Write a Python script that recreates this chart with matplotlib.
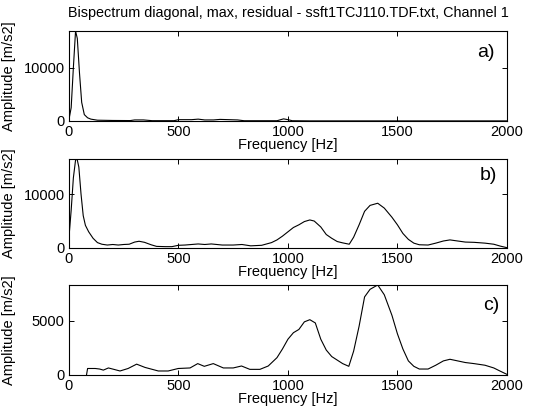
import matplotlib
matplotlib.use('Agg')
import matplotlib.pyplot as plt

plt.rcParams['font.family'] = ['Liberation Sans', 'DejaVu Sans']

# panel a) - bispectrum diagonal
freq_a = [0, 10, 20, 30, 38, 48, 58, 70, 85, 100, 130, 200, 280, 300, 340, 380, 480,
          500, 560, 590, 620, 660, 690, 730, 770, 800, 950, 980, 1000, 1020, 1100, 2000]
amp_a = [300, 2500, 10000, 16900, 15500, 9000, 3500, 1200, 600, 350, 150, 100, 80, 200, 200, 60, 60,
         250, 250, 350, 200, 200, 300, 250, 200, 50, 50, 400, 250, 50, 20, 20]

# panel b) - max
freq_b = [0, 10, 20, 30, 37, 45, 55, 65, 75, 90, 110, 130, 150, 175, 200, 225, 250, 275,
          300, 320, 345, 375, 400, 440, 470, 500, 530, 560, 590, 620, 650, 700, 750, 790,
          830, 880, 925, 950, 975, 1000, 1025, 1050, 1075, 1100, 1120, 1150, 1175, 1200,
          1225, 1250, 1280, 1300, 1325, 1350, 1375, 1410, 1440, 1475, 1500, 1525, 1550,
          1575, 1600, 1640, 1675, 1710, 1740, 1775, 1810, 1850, 1900, 1940, 1970, 2000]
amp_b = [2000, 7000, 13000, 16300, 16500, 15000, 10000, 6000, 4200, 3000, 1800, 1000, 700,
         550, 650, 550, 650, 700, 1100, 1250, 1050, 600, 300, 250, 250, 500, 550, 650, 750,
         650, 750, 550, 550, 650, 400, 500, 1000, 1500, 2200, 3000, 3800, 4300, 4900, 5200,
         5000, 3900, 2500, 1800, 1200, 950, 700, 2000, 4300, 6800, 7900, 8300, 7400, 5700,
         4300, 2700, 1600, 900, 600, 550, 900, 1300, 1500, 1300, 1100, 1050, 900, 700, 350, 60]

# panel c) - residual
freq_c = [80, 85, 120, 140, 157, 180, 205, 233, 270, 309, 347, 408, 453, 499, 553, 588,
          618, 659, 705, 750, 788, 826, 872, 910, 950, 975, 1000, 1025, 1050, 1075, 1100,
          1125, 1150, 1175, 1200, 1250, 1278, 1300, 1325, 1350, 1375, 1410, 1440, 1475,
          1500, 1525, 1550, 1575, 1600, 1640, 1675, 1710, 1740, 1775, 1810, 1850, 1900,
          1940, 1970, 2000]
amp_c = [0, 600, 600, 550, 450, 650, 520, 370, 600, 1000, 700, 370, 370, 600, 650, 1050,
         800, 1050, 650, 650, 830, 520, 520, 830, 1600, 2400, 3300, 3900, 4200, 4900, 5100,
         4800, 3300, 2300, 1700, 1050, 800, 2200, 4500, 7200, 7900, 8300, 7400, 5500,
         3800, 2400, 1300, 800, 550, 550, 900, 1300, 1450, 1300, 1150, 1050, 900,
         650, 350, 60]

panel_labels = ['a)', 'b)', 'c)']
yticks = [[0, 10000], [0, 10000], [0, 5000]]
xticks = [0, 500, 1000, 1500, 2000]

fig = plt.figure(figsize=(5.36, 4.11), dpi=100)
boxes = [[0.1287, 0.7056, 0.817, 0.219],
         [0.1287, 0.3966, 0.817, 0.2165],
         [0.1287, 0.0876, 0.817, 0.219]]
label_pos = [(0.973, 0.756), (0.977, 0.82), (0.982, 0.767)]

series = [(freq_a, amp_a), (freq_b, amp_b), (freq_c, amp_c)]
for i, (f, a) in enumerate(series):
    ax = fig.add_axes(boxes[i])
    ax.plot(f, a, color='black', linewidth=0.8)
    ax.set_xlim(0, 2000)
    ax.set_ylim(0, max(a))
    ax.set_xticks(xticks)
    ax.set_yticks(yticks[i])
    ax.tick_params(direction='in', top=True, right=True, length=3.5, width=0.7,
                   labelsize=10.5, pad=3)
    for s in ax.spines.values():
        s.set_linewidth(0.8)
    ax.set_xlabel('Frequency [Hz]', fontsize=10.5, labelpad=-1)
    ax.set_ylabel('Amplitude [m/s2]', fontsize=10.5)
    ax.yaxis.set_label_coords(-0.122, 0.5)
    ax.text(label_pos[i][0], label_pos[i][1], panel_labels[i], transform=ax.transAxes,
            ha='right', va='center', fontsize=14)

fig.text(0.539, 0.968, 'Bispectrum diagonal, max, residual - ssft1TCJ110.TDF.txt, Channel 1',
         ha='center', va='center', fontsize=10.4)

plt.savefig('out.png', dpi=100)
